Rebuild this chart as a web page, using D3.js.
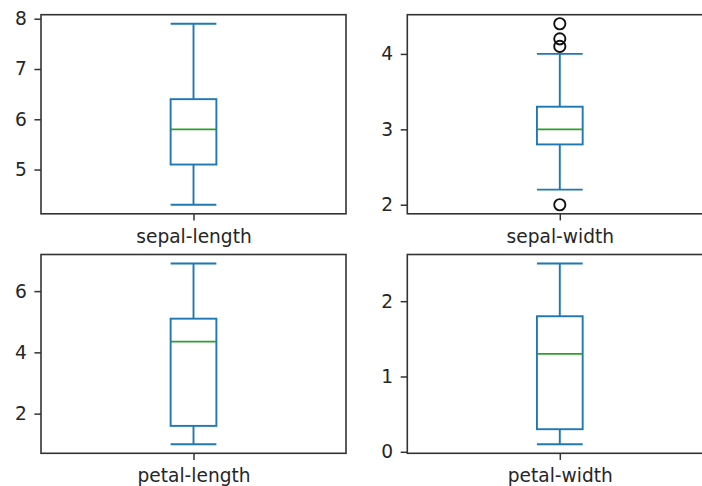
<!DOCTYPE html>
<html><head><meta charset="utf-8">
<script src="https://cdn.jsdelivr.net/npm/d3@7"></script>
<style>
html,body{margin:0;padding:0;background:#fff;overflow:hidden;}
svg{display:block;}
</style>
</head><body>
<svg id="chart" width="702" height="486"></svg>
<script>
// ---- data (iris summary) ----
const categories  = ["sepal-length", "sepal-width", "petal-length", "petal-width"];
const whiskerLow  = [4.3, 2.2, 1.0, 0.1];
const q1          = [5.1, 2.8, 1.6, 0.3];
const medians     = [5.8, 3.0, 4.35, 1.3];
const q3          = [6.4, 3.3, 5.1, 1.8];
const whiskerHigh = [7.9, 4.0, 6.9, 2.5];
const outliers    = [[], [4.4, 4.1, 4.2, 2.0], [], []];
const yTickValues = [[5, 6, 7, 8], [2, 3, 4], [2, 4, 6], [0, 1, 2]];

// ---- layout ----
const panels = [
  {x0: 41.0, x1: 346.0, y0: 14.7, y1: 213.8},
  {x0: 407.3, x1: 712.3, y0: 14.7, y1: 213.8},
  {x0: 41.0, x1: 346.0, y0: 254.5, y1: 453.3},
  {x0: 407.3, x1: 712.3, y0: 254.5, y1: 453.3}
];
const FONT = "DejaVu Sans";
const FS = 18.6;
const TICK = 6.6;
const BLUE = "#1f77b4", GREEN = "#2ca02c";

const svg = d3.select("#chart");

categories.forEach((cat, i) => {
  const p = panels[i];
  const lo = Math.min(whiskerLow[i], ...outliers[i]);
  const hi = Math.max(whiskerHigh[i], ...outliers[i]);
  const m = (hi - lo) * 0.05;
  const y = d3.scaleLinear().domain([lo - m, hi + m]).range([p.y1, p.y0]);
  const x = d3.scaleLinear().domain([0.5, 1.5]).range([p.x0, p.x1]);
  const g = svg.append("g");

  // y axis
  const yAxis = d3.axisLeft(y).tickValues(yTickValues[i]).tickSize(TICK).tickPadding(7.5)
    .tickFormat(d3.format("d"));
  const ya = g.append("g").attr("transform", `translate(${p.x0},0)`).call(yAxis);
  ya.select(".domain").remove();
  ya.selectAll("line").attr("stroke", "#333").attr("stroke-width", 1.5);
  ya.selectAll("text").attr("font-family", FONT).attr("font-size", FS).attr("fill", "#262626");

  // x axis
  const xAxis = d3.axisBottom(x).tickValues([1]).tickSize(TICK).tickPadding(9)
    .tickFormat(() => cat);
  const xa = g.append("g").attr("transform", `translate(0,${p.y1})`).call(xAxis);
  xa.select(".domain").remove();
  xa.selectAll("line").attr("stroke", "#333").attr("stroke-width", 1.5);
  xa.selectAll("text").attr("font-family", FONT).attr("font-size", FS).attr("fill", "#262626");

  const bw = 0.15, cw = 0.075;
  // whiskers
  g.append("line").attr("x1", x(1)).attr("x2", x(1)).attr("y1", y(whiskerLow[i])).attr("y2", y(q1[i]))
    .attr("stroke", BLUE).attr("stroke-width", 1.9);
  g.append("line").attr("x1", x(1)).attr("x2", x(1)).attr("y1", y(q3[i])).attr("y2", y(whiskerHigh[i]))
    .attr("stroke", BLUE).attr("stroke-width", 1.9);
  // caps
  [whiskerLow[i], whiskerHigh[i]].forEach(v => {
    g.append("line").attr("x1", x(1 - cw)).attr("x2", x(1 + cw)).attr("y1", y(v)).attr("y2", y(v))
      .attr("stroke", BLUE).attr("stroke-width", 1.9);
  });
  // box
  g.append("rect").attr("x", x(1 - bw / 2)).attr("y", y(q3[i]))
    .attr("width", x(1 + bw / 2) - x(1 - bw / 2)).attr("height", y(q1[i]) - y(q3[i]))
    .attr("fill", "none").attr("stroke", BLUE).attr("stroke-width", 1.9);
  // median
  g.append("line").attr("x1", x(1 - bw / 2)).attr("x2", x(1 + bw / 2))
    .attr("y1", y(medians[i])).attr("y2", y(medians[i]))
    .attr("stroke", GREEN).attr("stroke-width", 1.9);
  // outliers
  g.selectAll("circle.fl").data(outliers[i]).join("circle").attr("class", "fl")
    .attr("cx", x(1)).attr("cy", d => y(d)).attr("r", 5.6)
    .attr("fill", "none").attr("stroke", "#111").attr("stroke-width", 1.9);

  // frame
  g.append("rect").attr("x", p.x0).attr("y", p.y0).attr("width", p.x1 - p.x0).attr("height", p.y1 - p.y0)
    .attr("fill", "none").attr("stroke", "#333").attr("stroke-width", 1.6);
});
</script>
</body></html>
